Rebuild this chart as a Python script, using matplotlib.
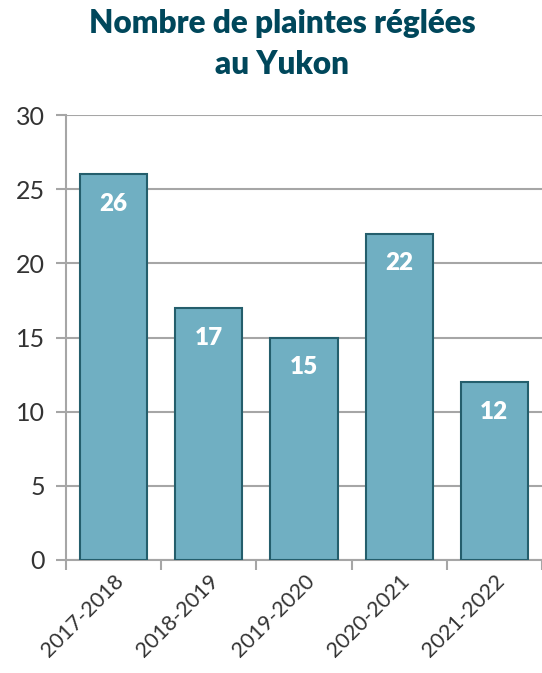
import matplotlib.pyplot as plt
import numpy as np

periodes = ['2017-2018', '2018-2019', '2019-2020', '2020-2021', '2021-2022']
plaintes = [26, 17, 15, 22, 12]
y_ticks = [0, 5, 10, 15, 20, 25, 30]

plt.rcParams['font.family'] = ['Lato', 'DejaVu Sans']

fig = plt.figure(figsize=(5.42, 6.73), dpi=100)
ax = fig.add_axes([0.1218, 0.168, 0.878, 0.661])

x = np.arange(len(periodes))
ax.bar(x, plaintes, width=0.705, color='#70AFC2', edgecolor='#245E6C',
       linewidth=1.5, zorder=3)

# étiquettes de valeur dans le haut des barres
for xi, v in zip(x, plaintes):
    ax.text(xi, v - 2.0, str(v), ha='center', va='center', color='white',
            fontsize=17.5, fontweight='heavy', zorder=4)

ax.set_xlim(-0.5, len(periodes) - 0.5)
ax.set_ylim(0, 30)
ax.set_yticks(y_ticks)
ax.set_yticklabels([str(t) for t in y_ticks], fontsize=18, color='#333333')
ax.yaxis.grid(True, color='#A6A6A6', linewidth=1.5, zorder=0)

# tick marks between categories, labels centred under the bars
ax.set_xticks(np.arange(len(periodes) + 1) - 0.5)
ax.set_xticklabels([])
ax.set_xticks(x, minor=True)
ax.set_xticklabels(periodes, minor=True, rotation=45, ha='right',
                   rotation_mode='anchor', fontsize=15.5, color='#333333')
ax.tick_params(axis='x', which='major', length=7, width=1.5, color='#A6A6A6')
ax.tick_params(axis='x', which='minor', length=0, pad=8)
ax.tick_params(axis='y', length=7, width=1.5, color='#A6A6A6', pad=8)

for s in ['top', 'right']:
    ax.spines[s].set_visible(False)
for s in ['left', 'bottom']:
    ax.spines[s].set_color('#A6A6A6')
    ax.spines[s].set_linewidth(1.5)

fig.text(0.52, 0.934, 'Nombre de plaintes réglées\nau Yukon', ha='center',
         va='center', fontsize=22.7, fontweight='heavy', color='#00475B',
         linespacing=1.5)

fig.savefig('out.png', dpi=100)
